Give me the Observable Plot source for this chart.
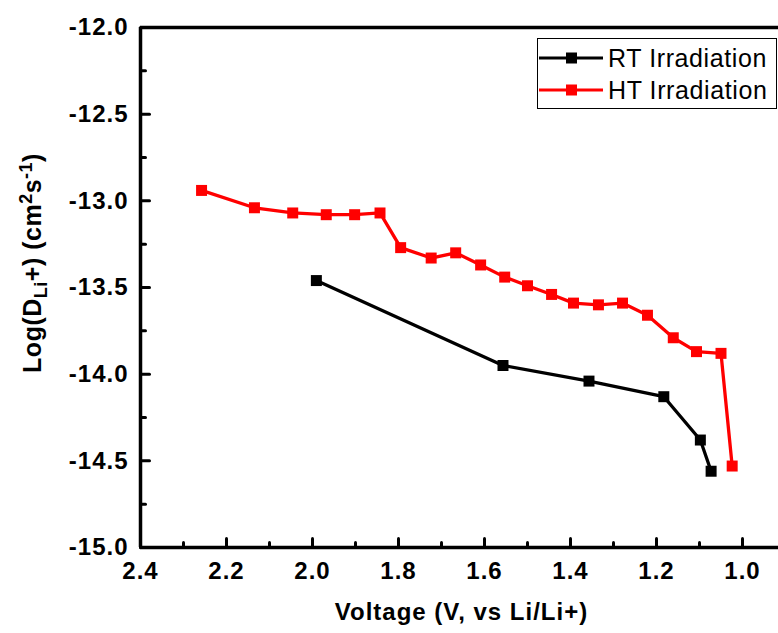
<!DOCTYPE html>
<html>
<head>
<meta charset="utf-8">
<script src="https://cdn.jsdelivr.net/npm/d3@7"></script>
<script src="https://cdn.jsdelivr.net/npm/@observablehq/plot@0.6"></script>
<style>
  html, body { margin: 0; padding: 0; background: #fff; }
  #wrap { position: relative; width: 778px; height: 633px; overflow: hidden; font-family: Arial, "Liberation Sans", sans-serif; }
  #wrap svg text { letter-spacing: 1px; }
  #ytitle { position: absolute; left: 34px; top: 263px; transform: translate(-50%, -50%) rotate(-90deg); white-space: nowrap; font-weight: bold; font-size: 25px; color: #000; letter-spacing: 0.5px; }
  #ytitle sub, #ytitle sup { font-size: 18px; }
  #legend { position: absolute; left: 537px; top: 38px; width: 238px; height: 69px; border: 1px solid #000; background: #fff; font-size: 25px; letter-spacing: 0.6px; }
  .lg { position: absolute; left: 0; height: 32px; display: flex; align-items: center; }
  .lg svg { margin-right: 4px; }
</style>
</head>
<body>
<div id="wrap"></div>
<script>
// Data
const rtVoltage = [1.991, 1.557, 1.357, 1.183, 1.098, 1.073];
const rtLogD    = [-13.46, -13.95, -14.04, -14.13, -14.38, -14.56];
const htVoltage = [2.258, 2.135, 2.046, 1.968, 1.902, 1.843, 1.795, 1.724, 1.667, 1.609, 1.553, 1.500, 1.444, 1.393, 1.335, 1.279, 1.221, 1.161, 1.107, 1.050, 1.024];
const htLogD    = [-12.94, -13.04, -13.07, -13.08, -13.08, -13.07, -13.27, -13.33, -13.30, -13.37, -13.44, -13.49, -13.54, -13.59, -13.60, -13.59, -13.66, -13.79, -13.87, -13.88, -14.53];
const xTicks = [2.4, 2.2, 2.0, 1.8, 1.6, 1.4, 1.2, 1.0];
const xMinorTicks = [2.3, 2.1, 1.9, 1.7, 1.5, 1.3, 1.1];
const yTicks = [-15.0, -14.5, -14.0, -13.5, -13.0, -12.5, -12.0];
const yMinorTicks = [-14.75, -14.25, -13.75, -13.25, -12.75, -12.25];
const seriesNames = ["RT Irradiation", "HT Irradiation"];
const seriesColors = ["#000000", "#ff0000"];

const rt = rtVoltage.map((v, i) => ({v, d: rtLogD[i]}));
const ht = htVoltage.map((v, i) => ({v, d: htLogD[i]}));

const xMin = 2.4, xMax = 2.4 - 638 / 430;
const yMin = -15, yMax = -12;
const fmt = d => d.toFixed(1);
const tickShape = {draw(context, l) { context.moveTo(0, 0); context.lineTo(0, -l); }};

const plot = Plot.plot({
  width: 778,
  height: 633,
  marginLeft: 140,
  marginRight: 0,
  marginTop: 27,
  marginBottom: 86,
  style: {fontFamily: "Arial, 'Liberation Sans', sans-serif", background: "#fff", overflow: "visible"},
  x: {domain: [xMin, xMax], axis: null},
  y: {domain: [yMin, yMax], axis: null},
  marks: [
    // inward ticks
    Plot.vector(yTicks, {x: xMin, y: d => d, length: 9, rotate: 90, anchor: "start", shape: tickShape, stroke: "#000", strokeWidth: 3}),
    Plot.vector(yMinorTicks, {x: xMin, y: d => d, length: 5, rotate: 90, anchor: "start", shape: tickShape, stroke: "#000", strokeWidth: 3}),
    Plot.vector(xTicks, {x: d => d, y: yMin, length: 9, rotate: 0, anchor: "start", shape: tickShape, stroke: "#000", strokeWidth: 3}),
    Plot.vector(xMinorTicks, {x: d => d, y: yMin, length: 5, rotate: 0, anchor: "start", shape: tickShape, stroke: "#000", strokeWidth: 3}),
    // frame: left, bottom, top
    Plot.ruleX([xMin], {y1: yMin, y2: yMax, stroke: "#000", strokeWidth: 3.5}),
    Plot.ruleY([yMin, yMax], {stroke: "#000", strokeWidth: 3.5}),
    // tick labels
    Plot.text(yTicks, {x: xMin, y: d => d, text: fmt, textAnchor: "end", dx: -12, fontSize: 24, fontWeight: "bold", fill: "#000"}),
    Plot.text(xTicks, {x: d => d, y: yMin, text: fmt, dy: 24, fontSize: 24, fontWeight: "bold", fill: "#000"}),
    // series
    Plot.line(rt, {x: "v", y: "d", stroke: seriesColors[0], strokeWidth: 3.3}),
    Plot.dot(rt, {x: "v", y: "d", symbol: "square", r: 6.2, fill: seriesColors[0], stroke: "none"}),
    Plot.line(ht, {x: "v", y: "d", stroke: seriesColors[1], strokeWidth: 3.3}),
    Plot.dot(ht, {x: "v", y: "d", symbol: "square", r: 6.2, fill: seriesColors[1], stroke: "none"}),
    // x axis title
    Plot.text(["Voltage (V, vs Li/Li+)"], {frameAnchor: "bottom", dy: 72, dx: 2, fontSize: 24, fontWeight: "bold", fill: "#000"})
  ]
});

const wrap = document.getElementById("wrap");
wrap.appendChild(plot);

const yt = document.createElement("div");
yt.id = "ytitle";
yt.innerHTML = "Log(D<sub>Li</sub>+) (cm<sup>2</sup>s<sup>-1</sup>)";
wrap.appendChild(yt);

const lg = document.createElement("div");
lg.id = "legend";
seriesNames.forEach((name, i) => {
  const row = document.createElement("div");
  row.className = "lg";
  row.style.top = (i * 32 + 3) + "px";
  row.innerHTML = `<svg width="66" height="14"><line x1="1" y1="7" x2="65" y2="7" stroke="${seriesColors[i]}" stroke-width="3"/><rect x="28" y="1.5" width="11" height="11" fill="${seriesColors[i]}"/></svg><span>${name}</span>`;
  lg.appendChild(row);
});
wrap.appendChild(lg);
</script>
</body>
</html>
